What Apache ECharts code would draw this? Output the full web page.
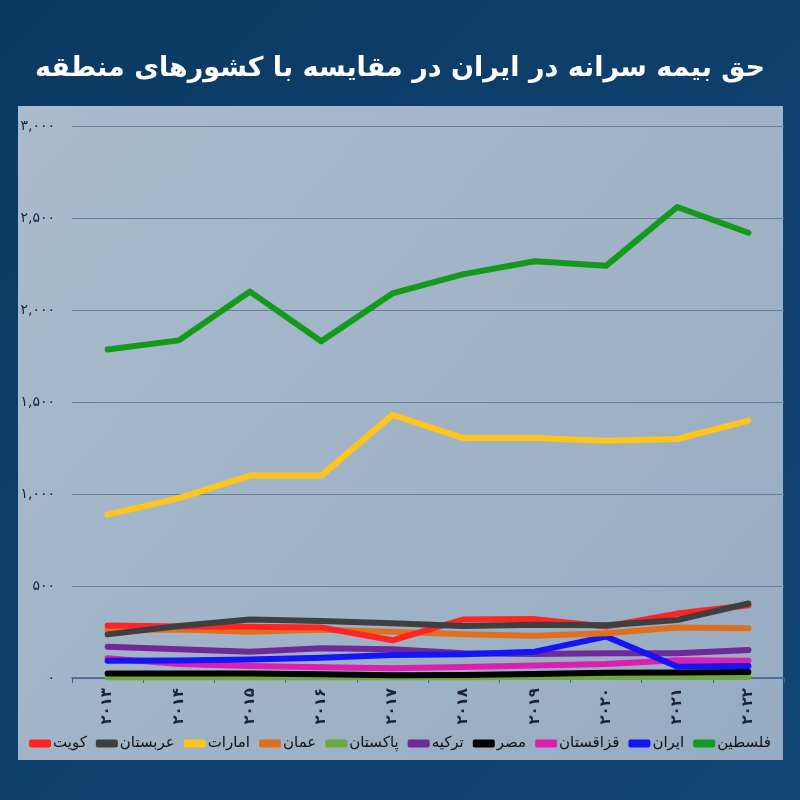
<!DOCTYPE html>
<html>
<head>
<meta charset="utf-8">
<script src="https://cdn.jsdelivr.net/npm/echarts@6/dist/echarts.min.js"></script>
<style>
html,body{margin:0;padding:0;background:#0d3a66;}
#c{width:800px;height:800px;}
</style>
</head>
<body>
<div id="c"></div>
<script>
var titleText = 'حق بیمه سرانه در ایران در مقایسه با کشورهای منطقه';
var years = ['۲۰۱۳','۲۰۱۴','۲۰۱۵','۲۰۱۶','۲۰۱۷','۲۰۱۸','۲۰۱۹','۲۰۲۰','۲۰۲۱','۲۰۲۲'];
var yTickValues = [0, 500, 1000, 1500, 2000, 2500, 3000];
var yTickLabels = ['۰','۵۰۰','۱,۰۰۰','۱,۵۰۰','۲,۰۰۰','۲,۵۰۰','۳,۰۰۰'];

var palestine  = [1785, 1835, 2100, 1830, 2090, 2195, 2265, 2240, 2560, 2420];
var uae        = [888, 978, 1100, 1100, 1430, 1304, 1304, 1290, 1299, 1399];
var kuwait     = [285, 280, 278, 275, 205, 318, 320, 280, 350, 395];
var saudi      = [237, 283, 318, 310, 298, 283, 290, 287, 315, 405];
var oman       = [262, 264, 252, 262, 252, 238, 230, 243, 274, 270];
var turkey     = [170, 156, 143, 162, 156, 135, 130, 134, 134, 152];
var iran       = [94, 95, 101, 110, 125, 129, 143, 225, 62, 65];
var kazakhstan = [107, 76, 65, 58, 53, 60, 68, 76, 97, 94];
var egypt      = [25, 25, 25, 20, 15, 16, 22, 28, 30, 32];
var pakistan   = [4, 4, 4, 4, 4, 4, 5, 5, 5, 5];

var legendOrder = ['کویت','عربستان','امارات','عمان','پاکستان','ترکیه','مصر','قزاقستان','ایران','فلسطین'];

var seriesDefs = [
  {name:'پاکستان', data:pakistan, color:'#6fa843'},
  {name:'قزاقستان', data:kazakhstan, color:'#dc1fae'},
  {name:'مصر', data:egypt, color:'#000000'},
  {name:'ترکیه', data:turkey, color:'#71289a'},
  {name:'ایران', data:iran, color:'#1414f5'},
  {name:'عمان', data:oman, color:'#e0701e'},
  {name:'کویت', data:kuwait, color:'#ff2424'},
  {name:'عربستان', data:saudi, color:'#3f3f3f'},
  {name:'امارات', data:uae, color:'#ffc51a'},
  {name:'فلسطین', data:palestine, color:'#13991b'}
];

var font = 'DejaVu Sans';
var chart = echarts.init(document.getElementById('c'), null, {renderer:'canvas'});
var option = {
  backgroundColor: {
    type:'linear', x:0, y:0, x2:1, y2:1,
    colorStops:[{offset:0,color:'#0b3963'},{offset:1,color:'#124675'}]
  },
  graphic: [
    {type:'rect', z:-10, shape:{x:18, y:106, width:765, height:654},
     style:{fill:{type:'linear', x:0, y:0, x2:1, y2:1,
       colorStops:[{offset:0,color:'#a9bbcd'},{offset:0.5,color:'#a1b4c7'},{offset:1,color:'#96acc2'}]}}}
  ],
  title: {
    text: titleText, left:'center', top:50,
    textStyle:{color:'#ffffff', fontSize:27, fontWeight:'bold', fontFamily:font}
  },
  legend: {
    data: legendOrder, bottom:44, left:'center',
    itemWidth:22, itemHeight:8, itemGap:9,
    icon:'roundRect',
    textStyle:{color:'#111111', fontSize:15, fontFamily:font, padding:[0,0,0,-3]}
  },
  grid: {left:72, right:16, top:126, bottom:122, containLabel:false},
  xAxis: {
    type:'category', data: years, boundaryGap:true,
    axisLine:{show:true, lineStyle:{color:'#3d5f92', width:1.5}},
    axisTick:{show:true, length:5, lineStyle:{color:'#3d5f92'}},
    axisLabel:{rotate:90, color:'#18213a', fontSize:15, fontWeight:'bold', fontFamily:font, margin:10}
  },
  yAxis: {
    type:'value', min:0, max:3000, interval:500,
    axisLine:{show:false}, axisTick:{show:false},
    splitLine:{lineStyle:{color:'#6a809a', width:1}},
    axisLabel:{color:'#18213a', fontSize:14, fontFamily:font, margin:17,
      formatter:function(v){var i=yTickValues.indexOf(v);return i>=0?yTickLabels[i]:'';}}
  },
  series: seriesDefs.map(function(s){
    return {
      name:s.name, type:'line', data:s.data, showSymbol:false, symbol:'none',
      smooth:false, animation:false, color:s.color,
      lineStyle:{width:6, color:s.color, cap:'round', join:'round'}
    };
  })
};
chart.setOption(option);
</script>
</body>
</html>
